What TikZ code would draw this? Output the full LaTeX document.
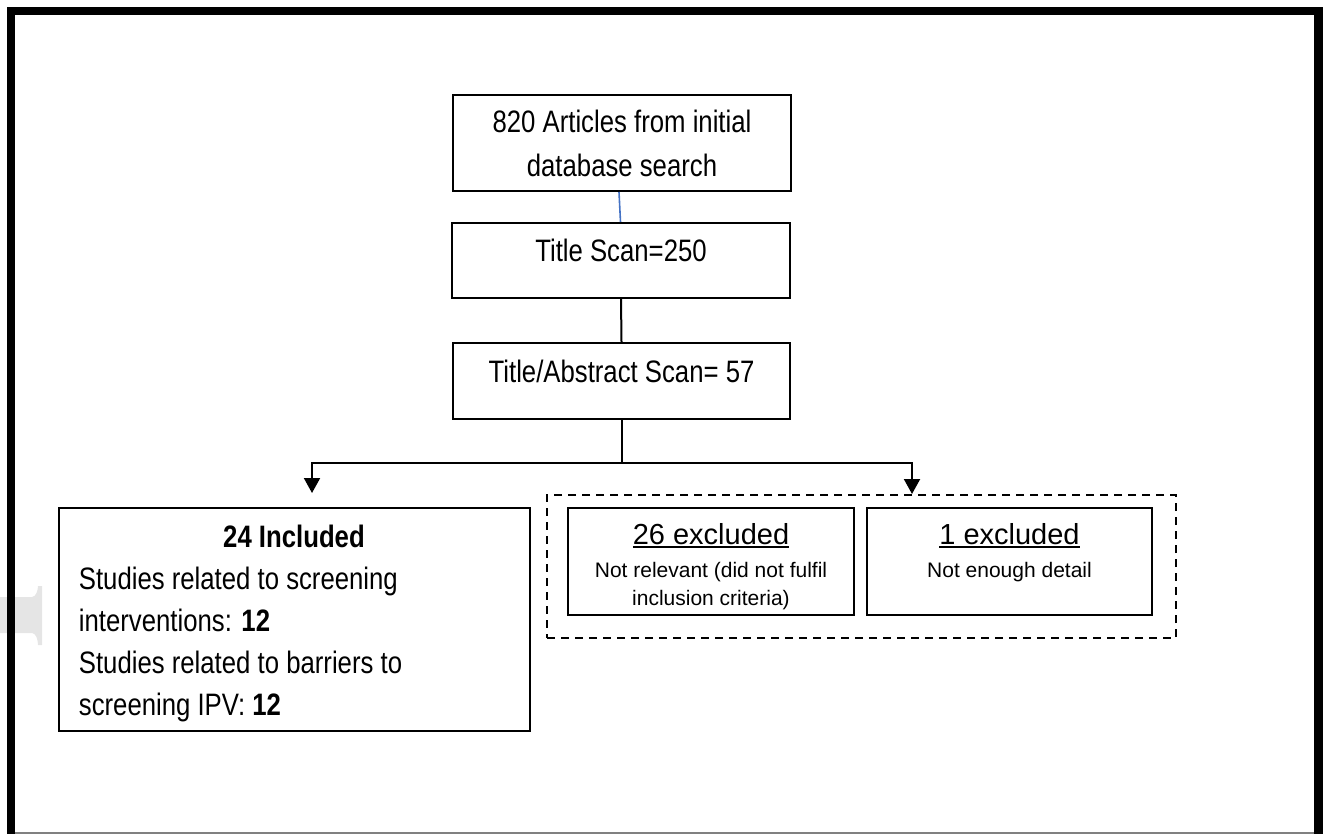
\documentclass[tikz,border=0pt]{standalone}
\usepackage{fontspec}
\setmainfont{Liberation Sans}
\newfontfamily\narrowfont{Liberation Sans}[FakeStretch=0.83]
\usetikzlibrary{arrows.meta,calc}
\definecolor{linkblue}{RGB}{68,114,196}
\definecolor{wmgray}{RGB}{229,229,229}
\newcommand{\ulbox}[1]{\setbox0\hbox{#1}\rlap{\rule[-2.2pt]{\wd0}{1.1pt}}\box0}
\begin{document}
\begin{tikzpicture}[x=0.5pt,y=-0.5pt,
  box/.style={draw,line width=1pt,inner sep=0pt,rectangle},
  txt/.style={inner sep=0pt,anchor=base},
  txtw/.style={inner sep=0pt,anchor=base west},
  big/.style={font=\narrowfont\fontsize{15.5}{22}\selectfont},
  hd/.style={font=\fontsize{14.5}{18}\selectfont},
  sm/.style={font=\fontsize{10.5}{14}\selectfont},
  conn/.style={line width=1pt},
  arr/.style={conn,-{Triangle[width=8pt,length=7.5pt]}}]
\useasboundingbox (0,0) rectangle (1327,834);
% faint watermark fragment
\fill[wmgray] (0,597) -- (32,597) .. controls (36,597) and (38,590) .. (38,586) -- (42,586) -- (42,645) -- (38,645) .. controls (38,640) and (36,633) .. (32,633) -- (0,633) -- cycle;
% frame
\draw[gray,line width=0.6pt] (15,833) -- (1314,833);
\draw[line width=4.25pt,line join=miter] (11,834) -- (11,11) -- (1318.5,11) -- (1318.5,834);
% boxes
\node[box,minimum width=169pt,minimum height=48pt] (b1) at (622,143) {};
\node[box,minimum width=169pt,minimum height=37.5pt] (b2) at (621,260.5) {};
\node[box,minimum width=168.5pt,minimum height=38pt] (b3) at (621.5,381) {};
\node[box,minimum width=235.5pt,minimum height=111.5pt] (inc) at (294.5,619.5) {};
\node[draw,line width=1pt,dash pattern=on 4pt off 3pt,minimum width=314.5pt,minimum height=71.5pt,inner sep=0pt] (exg) at (861.5,566.5) {};
\node[box,minimum width=143pt,minimum height=53.5pt] (ex1) at (711,561.5) {};
\node[box,minimum width=142.5pt,minimum height=53.5pt] (ex2) at (1009.5,561.5) {};
% texts
\node[txt,big] (t1a) at (622,133) {820 Articles from initial};
\node[txt,big] (t1b) at (622,177) {database search};
\node[txt,big] (t2) at (621,262) {Title Scan=250};
\node[txt,big] (t3) at (621.5,382) {Title/Abstract Scan= 57};
\node[txt,big] (i0) at (294,547) {\bfseries 24 Included};
\node[txtw,big] (i1) at (78.5,589) {Studies related to screening};
\node[txtw,big] (i2) at (78.5,631) {interventions: \textbf{12}};
\node[txtw,big] (i3) at (78.5,673) {Studies related to barriers to};
\node[txtw,big] (i4) at (78.5,715) {screening IPV: \textbf{12}};
\node[txt,hd] (e1h) at (711,544) {\ulbox{26 excluded}};
\node[txt,sm] (e1a) at (711,577) {Not relevant (did not fulfil};
\node[txt,sm] (e1b) at (711,605) {inclusion criteria)};
\node[txt,hd] (e2h) at (1009.5,544) {\ulbox{1 excluded}};
\node[txt,sm] (e2a) at (1009.5,577) {Not enough detail};
% connectors
\draw[line width=0.8pt,linkblue] ($(b1.south)+(-3,0)$) -- ($(b2.north)+(-0.5,0)$);
\draw[conn] (b2.south) -- (b3.north);
\coordinate (split) at ($(b3.south)+(0,43)$);
\coordinate (la) at (312,493);
\path (exg.north) ++(50.5,0) coordinate (ra);
\draw[conn] (b3.south) -- (split);
\draw[arr] (split) -| (la);
\draw[arr] (split) -| (ra);
\end{tikzpicture}
\end{document}
